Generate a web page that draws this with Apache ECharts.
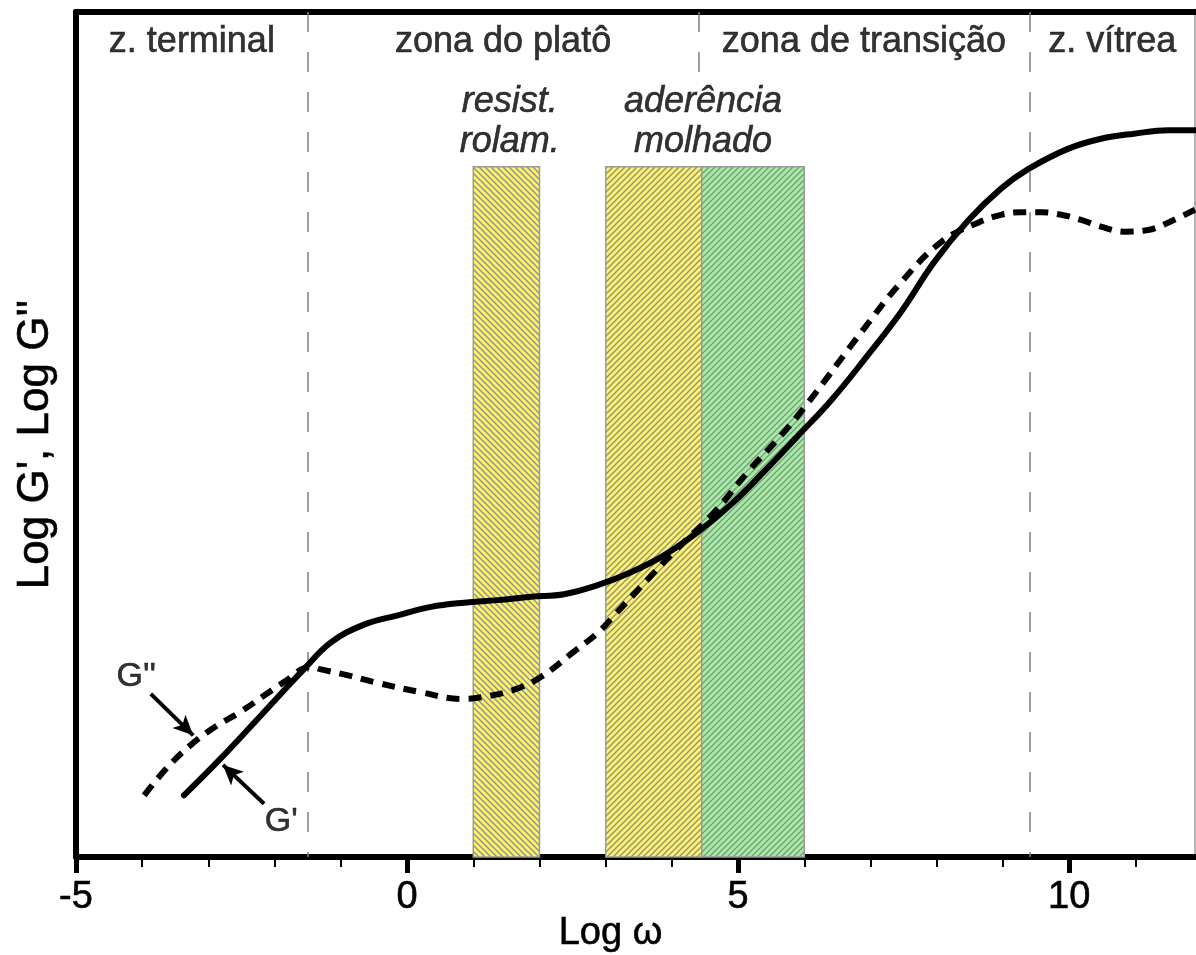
<!DOCTYPE html>
<html>
<head>
<meta charset="utf-8">
<script src="https://cdn.jsdelivr.net/npm/echarts@6/dist/echarts.min.js"></script>
<style>
html,body{margin:0;padding:0;background:#fff;}
#chart{width:1196px;height:955px;}
</style>
</head>
<body>
<div id="chart"></div>
<script>
// ---- data ----
const xMin = -5, xMax = 11.9;
const majorTicks = [-5, 0, 5, 10];
const minorTicks = [-4, -3, -2, -1, 1, 2, 3, 4, 6, 7, 8, 9, 11];

// G' (storage modulus) - solid line
const gPrimeX = [-3.37,-2.81,-2.25,-1.86,-1.56,-1.15,-0.65,-0.14,0.36,0.86,1.37,1.87,2.37,2.89,3.38,3.88,4.40,4.89,5.39,5.91,6.40,6.90,7.46,7.96,8.47,8.97,9.38,9.98,10.48,10.98,11.50,11.90];
const gPrimeY = [0.73,1.17,1.64,1.97,2.22,2.54,2.75,2.86,2.96,3.01,3.04,3.08,3.11,3.22,3.37,3.57,3.85,4.17,4.56,4.99,5.40,5.88,6.45,7.04,7.53,7.91,8.14,8.38,8.50,8.56,8.60,8.60];

// G'' (loss modulus) - dashed line
const gDoubleX = [-3.97,-3.62,-3.26,-2.88,-2.51,-1.86,-1.45,-1.30,-0.89,-0.50,0.21,0.82,1.12,1.62,2.02,2.52,2.89,3.13,3.64,4.03,4.64,5.15,5.65,6.06,6.86,7.46,8.07,8.63,8.97,9.27,9.58,9.88,10.18,10.48,10.83,11.19,11.50,11.90];
const gDoubleY = [0.73,1.06,1.33,1.55,1.72,2.07,2.25,2.22,2.15,2.07,1.95,1.87,1.89,1.98,2.13,2.43,2.66,2.86,3.29,3.61,4.08,4.56,4.99,5.38,6.21,6.80,7.28,7.51,7.60,7.63,7.63,7.60,7.54,7.46,7.40,7.42,7.51,7.66];

// zone boundaries and names
const zoneBounds = [-1.5, 4.4, 9.4];
const zoneNames = ['z. terminal', 'zona do platô', 'zona de transição', 'z. vítrea'];

// application bands
const bandStart = [1, 3, 4.45];
const bandEnd   = [2, 4.45, 6];
const bandTop = 8.17;

// application labels
const appLabels = [
  {x: 1.55, lines: ['resist.', 'rolam.']},
  {x: 4.47, lines: ['aderência', 'molhado']}
];

// curve name annotations: text position, arrow start, arrow tip
const curveNotes = [
  {name: "G''", text: [-4.09, 2.13], from: [-3.87, 1.93], to: [-3.23, 1.44]},
  {name: "G'",  text: [-1.90, 0.42], from: [-2.16, 0.63], to: [-2.78, 1.09]}
];

// ---- build ----
function zip(xs, ys){ return xs.map((x,i)=>[x, ys[i]]); }

function hatch(bg, dir){
  const s = 6;
  const c = document.createElement('canvas');
  c.width = s; c.height = s;
  const g = c.getContext('2d');
  g.fillStyle = bg; g.fillRect(0,0,s,s);
  g.strokeStyle = '#8c8c8c'; g.lineWidth = 1.3;
  g.beginPath();
  if (dir > 0) {
    g.moveTo(-1, s+1); g.lineTo(s+1, -1);
    g.moveTo(-1, 1); g.lineTo(1, -1);
    g.moveTo(s-1, s+1); g.lineTo(s+1, s-1);
  } else {
    g.moveTo(-1, -1); g.lineTo(s+1, s+1);
    g.moveTo(s-1, -1); g.lineTo(s+1, 1);
    g.moveTo(-1, s-1); g.lineTo(1, s+1);
  }
  g.stroke();
  return {image: c, repeat: 'repeat'};
}
const bandFills = [hatch('#fff36b', -1), hatch('#fff36b', 1), hatch('#9ef09e', 1)];

const FONT = "'Liberation Sans', Arial, sans-serif";
const TXT = {color:'#000', fontFamily:FONT, textBorderColor:'#000', textBorderWidth:0.6};

const zoneEdges = [xMin].concat(zoneBounds, [xMax]);
const zoneLabelData = zoneNames.map((n,i)=>({value:[(zoneEdges[i]+zoneEdges[i+1])/2, 9.64], name:n}));

const appLabelData = [];
appLabels.forEach(a=>{
  appLabelData.push({value:[a.x, 8.93], name:a.lines[0]});
  appLabelData.push({value:[a.x, 8.46], name:a.lines[1]});
});

const boundaryLines = zoneBounds.map((b,i)=> i===1
  ? [{coord:[b, 10]}, {coord:[b, 9.15]}]
  : [{coord:[b, 10]}, {coord:[b, 0]}]);

const bandAreas = bandStart.map((s,i)=>[
  {xAxis:s, yAxis:0, itemStyle:{color:bandFills[i], borderColor:'#9a9a9a', borderWidth:1.5}},
  {xAxis:bandEnd[i], yAxis:bandTop}
]);

const option = {
  animation: false,
  backgroundColor: '#fff',
  grid: {left: 76, right: 1, top: 12, bottom: 98, containLabel: false, outerBoundsMode: 'none'},
  xAxis: [
    {
      type: 'value', min: xMin, max: xMax, position: 'bottom',
      splitLine: {show:false},
      axisLine: {show:true, onZero:false, lineStyle:{color:'#000', width:6}},
      axisTick: {show:true, customValues: majorTicks, length:16, lineStyle:{color:'#000', width:5}},
      axisLabel: Object.assign({show:true, customValues: majorTicks, margin:22, fontSize:38}, TXT),
      name: 'Log ω', nameLocation:'middle', nameGap:58, nameMoveOverlap:false,
      nameTextStyle: Object.assign({fontSize:38, padding:[0,50,0,0]}, TXT)
    },
    {
      type: 'value', min: xMin, max: xMax, position: 'bottom',
      splitLine: {show:false},
      axisLine: {show:false, onZero:false},
      axisTick: {show:true, customValues: minorTicks, length:10, lineStyle:{color:'#000', width:2}},
      axisLabel: {show:false}
    },
    {
      type: 'value', min: xMin, max: xMax, position: 'top',
      splitLine: {show:false},
      axisLine: {show:true, onZero:false, lineStyle:{color:'#000', width:6}},
      axisTick: {show:false}, axisLabel: {show:false}
    }
  ],
  yAxis: [
    {
      type: 'value', min: 0, max: 10, position: 'left',
      splitLine: {show:false},
      axisLine: {show:true, onZero:false, lineStyle:{color:'#000', width:6}},
      axisTick: {show:false}, axisLabel: {show:false},
      name: "Log G', Log G''", nameLocation:'middle', nameGap:18, nameMoveOverlap:false,
      nameTextStyle: Object.assign({fontSize:44, padding:[0,20,0,0]}, TXT)
    },
    {
      type: 'value', min: 0, max: 10, position: 'right',
      splitLine: {show:false},
      axisLine: {show:true, onZero:false, lineStyle:{color:'#999', width:1.5}},
      axisTick: {show:false}, axisLabel: {show:false}
    }
  ],
  series: [
    {
      name: 'bands', type: 'line', data: [], z: 1, silent: true,
      markArea: {silent:true, data: bandAreas, label:{show:false}},
      markLine: {
        silent:true, symbol:['none','none'], label:{show:false},
        lineStyle:{color:'#808080', width:1.5, type:[20,20]},
        data: boundaryLines
      }
    },
    {
      name: "G'", type: 'line', data: zip(gPrimeX, gPrimeY), z: 5,
      smooth: 0.4, symbol: 'none',
      lineStyle: {color:'#000', width:6, cap:'round'}
    },
    {
      name: "G''", type: 'line', data: zip(gDoubleX, gDoubleY), z: 5,
      smooth: 0.4, symbol: 'none',
      lineStyle: {color:'#000', width:6, type:[13,9], cap:'butt'}
    },
    {
      name: 'zones', type: 'scatter', data: zoneLabelData, symbolSize: 0, z: 6, silent:true,
      label: Object.assign({show:true, position:'inside', formatter:'{b}', fontSize:36}, TXT)
    },
    {
      name: 'apps', type: 'scatter', data: appLabelData, symbolSize: 0, z: 6, silent:true,
      label: Object.assign({show:true, position:'inside', formatter:'{b}', fontSize:36, fontStyle:'italic'}, TXT)
    },
    {
      name: 'notes', type: 'scatter', symbolSize: 0, z: 6, silent:true,
      data: curveNotes.map(n=>({value:n.text, name:n.name})),
      label: Object.assign({show:true, position:'inside', formatter:'{b}', fontSize:34}, TXT),
      markLine: {
        silent:true, symbol:['none','arrow'], symbolSize:[14,20], label:{show:false},
        lineStyle:{color:'#000', width:4, type:'solid'},
        data: curveNotes.map(n=>[{coord:n.from},{coord:n.to}])
      }
    }
  ]
};

const chart = echarts.init(document.getElementById('chart'), null, {renderer:'canvas'});
chart.setOption(option);
</script>
</body>
</html>
